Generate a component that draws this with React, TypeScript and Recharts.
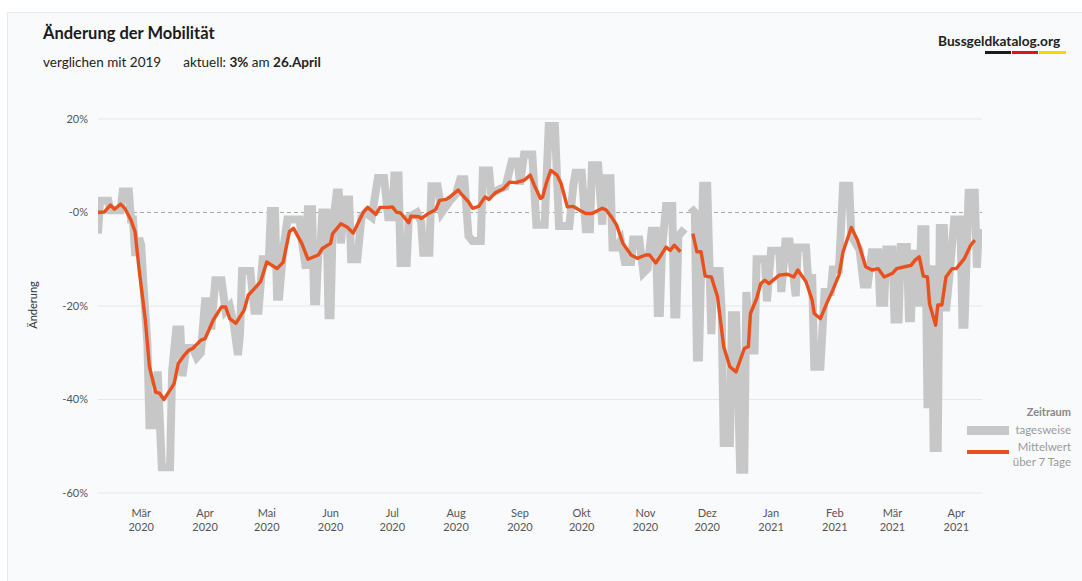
import { LineChart, Line, XAxis, YAxis, CartesianGrid } from "recharts";

// Tag 0 = 23.02.2020, letzter Tag (428) = 26.04.2021
const monthTicks = [21, 52, 82, 113, 143, 174, 205, 235, 266, 296, 327, 358, 386, 417];
const monthNames = ["Mär", "Apr", "Mai", "Jun", "Jul", "Aug", "Sep", "Okt", "Nov", "Dez", "Jan", "Feb", "Mär", "Apr"];
const monthYears = ["2020", "2020", "2020", "2020", "2020", "2020", "2020", "2020", "2020", "2020", "2021", "2021", "2021", "2021"];
const yTicks = [20, 0, -20, -40, -60];
const gapDay = 286;

// tagesweise: [Tag, Änderung in %]
const dailyBeforeGap: [number, number][] = [
  [0, -4.5], [1, 2.5], [5, 2.5], [6, 0.5], [11, 0.5], [12, 4.5], [15, 4.5], [16, -1.5], [17, -1.5],
  [18, -8.5], [19, -8.5], [20, -5.5], [21, -7], [22, -15], [24, -28], [25, -45.5], [28, -45.5],
  [29, -34], [31, -54.5], [35, -54.5], [36, -34], [38, -25], [40, -25], [41, -35], [43, -29],
  [46, -29], [48, -31], [50, -30], [52, -19], [54, -19], [55, -25], [57, -14.5], [60, -14.5],
  [62, -21], [64, -20], [66, -24], [68, -30.5], [69, -26], [70, -12.5], [74, -12.5], [76, -21],
  [78, -21], [80, -10], [83, -10], [84, 0.3], [86, 0.3], [87, -18], [88, -18], [90, -8],
  [92, -1.5], [98, -1.5], [99, -6], [101, -12], [102, 0.7], [104, 0.7], [105, -19], [106, -19],
  [107, -9], [108, -8], [109, 0], [111, 0], [112, -22], [113, -22], [114, -3], [116, 4.3],
  [117, 4.3], [118, -6.6], [120, 2.8], [122, 2.8], [123, -10], [126, -10], [128, -1], [130, 0],
  [133, -1], [136, 7.4], [139, 7.4], [141, -1], [143, -1], [144, 7.9], [146, 7.9], [147, -10.8],
  [150, -10.8], [151, -1], [155, 0], [157, -2], [158, -8.6], [161, -8.6], [162, 5.6], [165, 5.6],
  [167, 0], [171, 2.5], [174, 4], [176, 7.1], [178, 7.1], [180, -5], [182, -6.1], [186, -6.1],
  [187, 9], [190, 9], [191, 4], [195, 5], [198, 5.5], [201, 10.9], [204, 10.9], [205, 6],
  [207, 12.4], [211, 12.4], [213, -2.6], [217, -2.6], [219, 18.5], [222, 18.5], [224, -2.9],
  [229, -2.9], [231, 6], [232, 8.5], [235, 8.5], [237, -3.6], [239, -3.6], [240, 10.1], [243, 10.1],
  [245, -2.6], [246, 7.3], [249, 7.3], [250, -7.5], [252, -7.5], [254, -6], [256, -10.6],
  [259, -10.6], [260, -5.8], [263, -5.8], [265, -12.9], [267, -12], [269, -3.9], [271, -3.9],
  [272, -21.5], [273, -21.5], [274, -8], [276, 1.4], [279, 1.4], [280, -21.8], [281, -21.8],
  [282, -5], [285, -3.5],
];

const dailyAfterGap: [number, number][] = [
  [288, 1], [290, 0], [291, -31], [292, -31], [294, 5.7], [296, 5.7], [298, -26], [299, -12.5],
  [302, -12.5], [303, -21], [304, -49.3], [307, -49.3], [308, -22], [310, -22], [312, -55],
  [314, -55], [315, -17], [317, -29.5], [319, -29.5], [320, -10], [324, -10], [325, -19],
  [327, -8.2], [331, -8.2], [332, -17], [334, -6.2], [336, -6.2], [339, -17.9], [340, -7.5],
  [344, -7.5], [345, -14], [347, -14], [348, -33], [351, -33], [353, -17], [356, -17],
  [357, -12.2], [360, -12.2], [362, 5.7], [365, 5.7], [366, -5], [370, -8], [372, -15.4],
  [374, -15.4], [376, -8.5], [379, -8.5], [380, -19.3], [382, -19.3], [383, -7.9], [386, -7.9],
  [387, -22.9], [389, -22.9], [390, -7.4], [393, -7.4], [394, -22.6], [395, -22.6], [396, -8],
  [398, -19.3], [399, -19.3], [400, -3.6], [402, -3.6], [403, -41], [404, -41], [405, -11.3],
  [406, -50.4], [408, -50.4], [409, -3.3], [411, -3.3], [412, -21.1], [414, -12], [416, -1.5],
  [419, -1.5], [420, -24], [421, -24], [423, 4.2], [426, 4.2], [427, -11.8], [428, -3.5],
];

// Mittelwert über 7 Tage: [Tag, Änderung in %]
const avgBeforeGap: [number, number][] = [
  [0, 0], [3, 0.1], [6, 1.6], [8, 0.7], [11, 1.8], [13, 0.9], [16, -1.6], [18, -4.1], [20, -12.3],
  [23, -23], [25, -33], [28, -38.4], [30, -38.7], [32, -40], [35, -38], [37, -36.6], [39, -32.3],
  [42, -30.5], [44, -29.5], [46, -29.1], [50, -27.3], [52, -27], [56, -23], [60, -20.2],
  [62, -20.2], [64, -22.7], [67, -23.7], [71, -20.9], [73, -17.7], [76, -16.3], [79, -14.8],
  [82, -10.6], [87, -12], [90, -10.6], [93, -4.1], [95, -3.4], [99, -6.6], [102, -10], [107, -9.1],
  [109, -7.7], [113, -6.6], [114, -4.5], [118, -2.4], [121, -3.1], [124, -4.4], [129, 0.1],
  [131, 1.1], [135, -0.4], [137, 1.1], [141, 1.1], [143, 1.2], [145, 0.1], [147, -0.1],
  [151, -2.2], [152, -0.8], [156, -0.9], [157, -1.3], [161, -0.1], [164, 0.6], [166, 2.6],
  [169, 2.8], [171, 3.3], [175, 4.8], [177, 3.7], [180, 2.3], [182, 0.9], [185, 1.3], [188, 3.3],
  [190, 2.8], [193, 4.2], [197, 5.1], [200, 6.5], [203, 6.4], [207, 6.9], [210, 8], [212, 5.8],
  [215, 3], [216, 3.3], [218, 6.5], [220, 9], [223, 8], [225, 6.2], [228, 1.2], [231, 1.3],
  [234, 0.5], [237, -0.2], [240, -0.2], [245, 0.9], [247, 0.5], [250, -1.3], [252, -2.7],
  [255, -6.6], [259, -9.1], [262, -9.8], [266, -9.1], [268, -9.1], [271, -10.8], [273, -9.5],
  [276, -7.4], [278, -8.1], [280, -7], [283, -8.4],
];

const avgAfterGap: [number, number][] = [
  [289, -4.5], [291, -8.4], [293, -8.4], [295, -13.6], [298, -13.8], [301, -18], [304, -28.7],
  [307, -33], [310, -34.1], [312, -31.6], [314, -29.1], [316, -28.7], [317, -21.6], [320, -18.4],
  [322, -15.2], [324, -14.5], [326, -15.2], [331, -13.4], [335, -13.2], [338, -13.8], [340, -12.3],
  [344, -14.8], [347, -18.8], [348, -21.6], [351, -22.7], [354, -19.5], [357, -16.6], [360, -13.4],
  [362, -8.4], [366, -3.2], [369, -5.9], [373, -11.6], [376, -12.3], [379, -12], [382, -13.8],
  [386, -13], [388, -12], [393, -11.5], [395, -11.3], [397, -10.2], [399, -9.5], [401, -13.6],
  [403, -13.8], [404, -19.5], [407, -24.1], [408, -19.8], [410, -19.8], [412, -13.8], [415, -12],
  [417, -12], [421, -9.8], [424, -7], [426, -5.9],
];

const toRows = (before: [number, number][], after: [number, number][]) => [
  ...before.map(([day, v]) => ({ day, v: v as number | null })),
  { day: gapDay, v: null },
  ...after.map(([day, v]) => ({ day, v: v as number | null })),
];

const dailyData = toRows(dailyBeforeGap, dailyAfterGap);
const avgData = toRows(avgBeforeGap, avgAfterGap);

const FONT = "Lato, 'Noto Sans', sans-serif";
const GRAY = "#c7c7c7";
const ORANGE = "#e8511d";

function MonthTick({ x, y, payload }: any) {
  const i = monthTicks.indexOf(payload.value);
  return (
    <g>
      <text x={x} y={y + 24} textAnchor="middle" fontSize={11} fill="#555" fontFamily={FONT}>
        {monthNames[i]}
      </text>
      <text x={x} y={y + 38} textAnchor="middle" fontSize={11} fill="#555" fontFamily={FONT}>
        {monthYears[i]}
      </text>
    </g>
  );
}

export default function App() {
  return (
    <div style={{ position: "absolute", left: 0, top: 0, width: 1082, height: 581, overflow: "hidden", background: "#fff", fontFamily: FONT }}>
      <div style={{ position: "absolute", left: 7, top: 12, width: 1100, height: 600, background: "#f9fafb", border: "1px solid #e9eaec" }} />

      <div style={{ position: "absolute", left: 43, top: 25, fontSize: 16.5, lineHeight: "17px", fontWeight: 700, color: "#1b1b1b" }}>
        Änderung der Mobilität
      </div>
      <div style={{ position: "absolute", left: 43, top: 55, fontSize: 13.5, lineHeight: "14px", color: "#222", whiteSpace: "nowrap" }}>
        verglichen mit 2019
        <span style={{ marginLeft: 22 }}>
          aktuell: <b>3%</b> am <b>26.April</b>
        </span>
      </div>

      <div style={{ position: "absolute", left: 938, top: 34, fontSize: 13.7, lineHeight: "14px", fontWeight: 700, color: "#222" }}>
        Bussgeldkatalog.org
      </div>
      <div style={{ position: "absolute", left: 985, top: 51, width: 26, height: 3, background: "#1c1c1c" }} />
      <div style={{ position: "absolute", left: 1012, top: 51, width: 26, height: 3, background: "#e3101c" }} />
      <div style={{ position: "absolute", left: 1039, top: 51, width: 27, height: 3, background: "#f8d700" }} />

      <div
        style={{
          position: "absolute",
          left: 32,
          top: 305,
          fontSize: 11,
          color: "#333",
          transform: "translate(-50%, -50%) rotate(-90deg)",
          whiteSpace: "nowrap",
        }}
      >
        Änderung
      </div>

      <div style={{ position: "absolute", left: 0, top: 0 }}>
        <LineChart width={1082} height={581} margin={{ top: 119, right: 100, bottom: 48, left: 48 }}>
          <CartesianGrid vertical={false} horizontalValues={[20, -20, -40, -60]} stroke="#e5e7ea" />
          <CartesianGrid vertical={false} horizontalValues={[0]} stroke="#a9a9a9" strokeDasharray="4 3" />
          <XAxis
            type="number"
            dataKey="day"
            domain={[0, 429.5]}
            ticks={monthTicks}
            tick={<MonthTick />}
            tickLine={false}
            axisLine={false}
            tickSize={0}
            tickMargin={0}
            height={40}
            interval={0}
            allowDataOverflow
          />
          <YAxis
            type="number"
            domain={[-60, 20]}
            ticks={yTicks}
            tickFormatter={(v: number) => (v === 0 ? "-0%" : `${v}%`)}
            tick={{ fontSize: 11, fill: "#555", fontFamily: FONT }}
            tickLine={false}
            axisLine={false}
            tickSize={0}
            tickMargin={10}
            width={50}
            interval={0}
            allowDataOverflow
          />
          <Line
            data={dailyData}
            dataKey="v"
            type="linear"
            stroke={GRAY}
            strokeWidth={8}
            strokeLinejoin="miter"
            dot={false}
            activeDot={false}
            isAnimationActive={false}
          />
          <Line
            data={avgData}
            dataKey="v"
            type="linear"
            stroke={ORANGE}
            strokeWidth={3.4}
            strokeLinejoin="round"
            dot={false}
            activeDot={false}
            isAnimationActive={false}
          />
        </LineChart>
      </div>

      <div style={{ position: "absolute", right: 11, top: 405, fontSize: 11, fontWeight: 700, color: "#888", textAlign: "right" }}>
        Zeitraum
      </div>
      <div style={{ position: "absolute", left: 967, top: 426, width: 42, height: 9, background: GRAY }} />
      <div style={{ position: "absolute", right: 11, top: 423, fontSize: 11.5, color: "#9a9a9a", textAlign: "right" }}>
        tagesweise
      </div>
      <div style={{ position: "absolute", left: 967, top: 450, width: 42, height: 3.5, background: ORANGE }} />
      <div style={{ position: "absolute", right: 11, top: 440, fontSize: 11.5, lineHeight: "14.5px", color: "#9a9a9a", textAlign: "right" }}>
        Mittelwert
        <br />
        über 7 Tage
      </div>
    </div>
  );
}
